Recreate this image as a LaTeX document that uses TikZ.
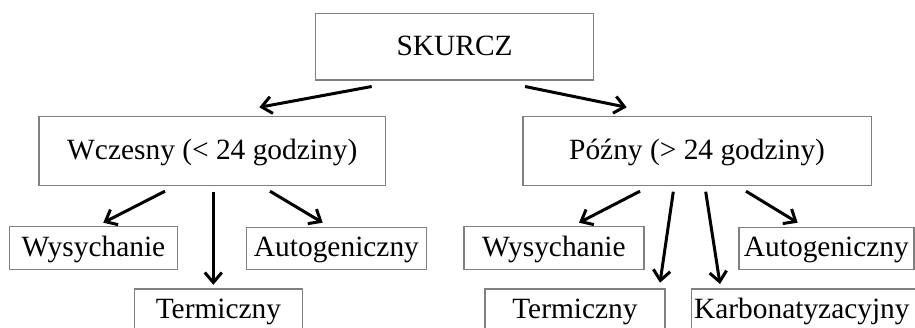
\documentclass[tikz,border=0pt]{standalone}
\usepackage{fontspec}
\setmainfont{Liberation Serif}
\usetikzlibrary{arrows.meta}
\begin{document}
\begin{tikzpicture}[x=1pt,y=-1pt,
  box/.style={draw=black!50,line width=1.2pt,rectangle,inner sep=0pt,
    font=\fontsize{29.4}{32}\selectfont,text height=22pt,text depth=5pt,anchor=north west},
  arr/.style={line width=3pt,-{Straight Barb[length=10pt,width=17pt,line width=3pt]}}]
\useasboundingbox (0,0) rectangle (915,327);
% nodes (north west corner placement)
\node[box,minimum width=278pt,minimum height=66.6pt] (sk) at (315,12.7) {SKURCZ};
\node[box,minimum width=346.7pt,minimum height=69pt] (wc) at (38.3,116) {Wczesny (< 24 godziny)};
\node[box,minimum width=348.4pt,minimum height=69pt] (pz) at (522.3,116) {Późny (> 24 godziny)};
\node[box,minimum width=167.7pt,minimum height=43pt] (w1) at (9,226) {Wysychanie};
\node[box,minimum width=180.3pt,minimum height=42pt] (a1) at (245.7,226.5) {Autogeniczny};
\node[box,minimum width=167.7pt,minimum height=43pt] (t1) at (134,288.3) {Termiczny};
\node[box,minimum width=180pt,minimum height=42.5pt] (w2) at (463.3,226) {Wysychanie};
\node[box,minimum width=175pt,minimum height=42pt] (a2) at (738.3,226.5) {Autogeniczny};
\node[box,minimum width=180pt,minimum height=43pt] (t2) at (484.3,288.3) {Termiczny};
\node[box,minimum height=43pt,text width=240pt,align=left] (k2) at (691,288.3) {\hspace*{2.5pt}Karbonatyzacyjny};
% arrows
\draw[arr] ([shift={(56.7,6)}]sk.south west) -- ([shift={(221,-8.7)}]wc.north west);
\draw[arr] ([shift={(210,6)}]sk.south west) -- ([shift={(104.4,-8.7)}]pz.north west);
\draw[arr] ([shift={(126.7,5)}]wc.south west) -- ([shift={(94.3,-3.3)}]w1.north west);
\draw[arr] ([shift={(175,5.5)}]wc.south west) -- ([shift={(79.3,-3.5)}]t1.north west);
\draw[arr] ([shift={(231.7,5)}]wc.south west) -- ([shift={(77,-3.8)}]a1.north west);
\draw[arr] ([shift={(117.7,5)}]pz.south west) -- ([shift={(115.7,-3.3)}]w2.north west);
\draw[arr] ([shift={(151,5.5)}]pz.south west) -- ([shift={(175.7,-5.6)}]t2.north west);
\draw[arr] ([shift={(183.4,5.5)}]pz.south west) -- ([shift={(29,-4.3)}]k2.north west);
\draw[arr] ([shift={(223.7,5)}]pz.south west) -- ([shift={(59.4,-3.8)}]a2.north west);
\end{tikzpicture}
\end{document}
